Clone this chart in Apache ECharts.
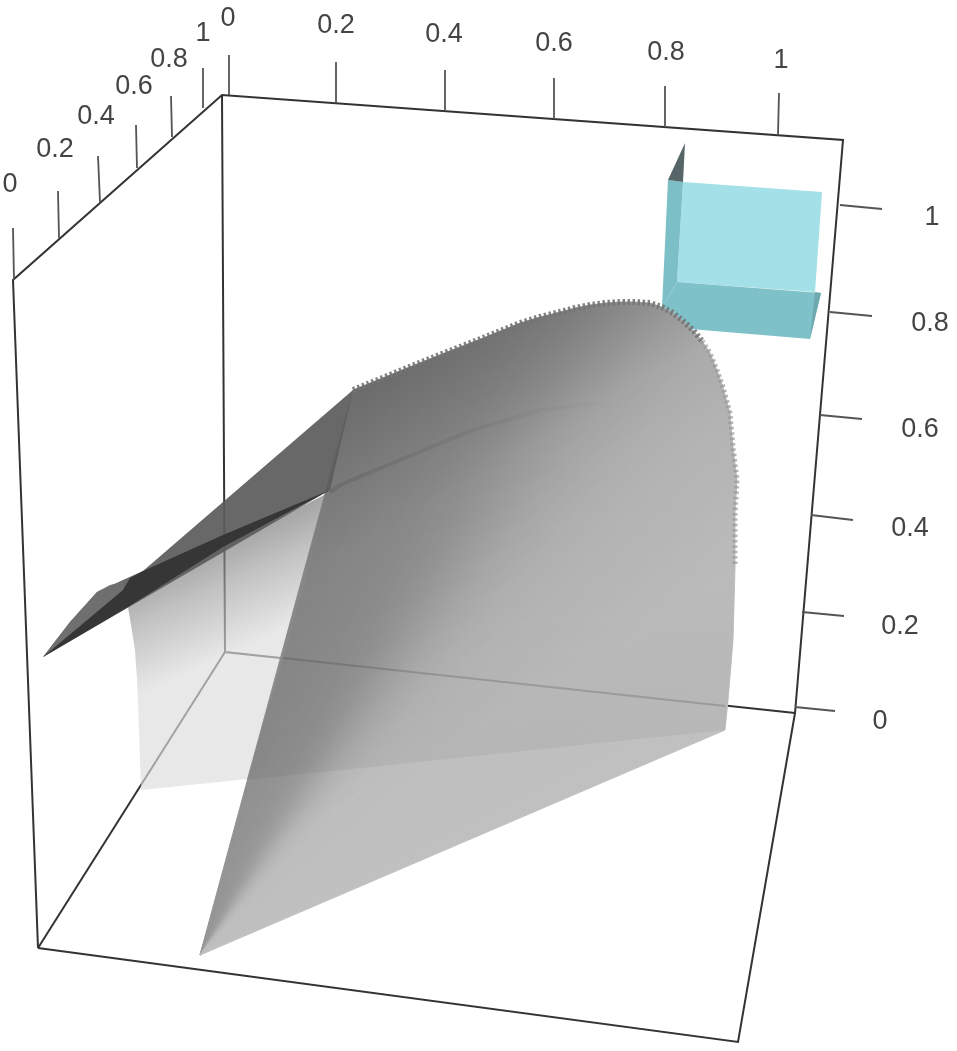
<!DOCTYPE html>
<html>
<head>
<meta charset="utf-8">
<title>3D surface</title>
<script src="https://cdn.jsdelivr.net/npm/echarts@6/dist/echarts.min.js"></script>
<style>
html,body{margin:0;padding:0;background:#fff;}
#chart{width:957px;height:1051px;filter:blur(0.6px);}
</style>
</head>
<body>
<div id="chart"></div>
<script>
var boxBack = [[222,95],[225,652],[795,713]];
var boxBackFloor = [[225,652],[38,948]];
var boxOutline = [[38,948],[13,280],[222,95],[843,140],[795,713],[738,1042],[38,948]];

var xTicks = [[[14,280],[13,228]],[[59,238],[58,191]],[[100,202],[98,156]],[[137,168],[136,125]],[[172,137],[171,96]],[[203,108],[203,68]]];
var yTicks = [[[229,95],[229,55]],[[336,103],[336,62]],[[445,111],[445,70]],[[554,119],[554,78]],[[665,127],[665,86]],[[778,135],[779,93]]];
var zTicks = [[[795,707],[835,711]],[[802,612],[844,616]],[[811,515],[853,520]],[[820,415],[862,419]],[[830,312],[872,316]],[[840,205],[882,209]]];

var tickText = ['0','0.2','0.4','0.6','0.8','1'];
var xLabelAt = [[10,185],[55,150],[96,117],[134,87],[169,60],[203,34]];
var yLabelAt = [[228,19],[336,26],[444,35],[554,44],[666,53],[781,61]];
var zLabelAt = [[880,722],[900,627],[910,529],[920,430],[930,324],[932,218]];

var apex = [200,955];
var rimPoints = [[353,390],[380,379],[407,368],[447,352],[483,338],[520,323],[540,317],[560,312],[575,308],[590,305],[605,303],[620,302],[635,302],[650,303],[662,307],[673,313],[683,321],[693,330],[702,341],[710,353],[717,370],[723,387],[730,413],[733,447],[737,480],[735,513],[735,567],[733,640],[728,700],[725,730]];
var rimGray = [148,148,149,150,151,153,155,157,159,161,164,167,170,173,176,179,181,183,185,187,188,189,190,190,190,191,191,191,192,192];
var ridgePoints = [[330,492],[340,485],[407,457],[473,430],[540,410],[590,404],[633,406],[673,417],[707,433],[733,453]];

var backLeft = [[128,607],[223,547]];
var backRight = [[735,513],[735,567],[733,640],[728,700],[725,730],[141,790],[139,730],[137,680],[135,650],[131,625]];
var overlapLeft = [[246,780],[283,660]];

var wedge = [[43,657],[70,622],[97,592],[123,580],[143,571],[353,390],[330,490]];
var wedgeTip = [[43,657],[70,622],[97,592],[110,585],[123,582],[128,607]];
var strip = [[43,657],[123,590],[130,578],[143,571],[223,535],[330,490],[223,547],[128,607]];

var cubeTop = [[685,143],[668,180],[683,182]];
var cubeBack = [[683,182],[822,192],[815,292],[677,282]];
var cubeLeft = [[668,180],[683,182],[677,282],[662,307]];
var cubeFloor = [[677,282],[821,293],[810,339],[690,329],[662,307]];
var cubeFloorEnd = [[815,292],[821,293],[810,339]];

var seenThrough = [[283,658],[725,706]];

var chart = echarts.init(document.getElementById('chart'));

function gray(v,a){
	return 'rgba('+v+','+v+','+v+','+a+')';
}

function polygonSeries(points,style){
	return {
		type:'custom',
		silent:true,
		clip:false,
		data:[0],
		renderItem:function(params,api){
			var s = typeof style === 'function' ? style(api) : style;
			return {
				type:'polygon',
				shape:{points:points.map(function(p){return api.coord(p);})},
				style:s
			};
		}
	};
}

function lineSeries(lines,style){
	return {
		type:'custom',
		silent:true,
		clip:false,
		data:lines.map(function(l,i){return i;}),
		renderItem:function(params,api){
			var s = typeof style === 'function' ? style(api) : style;
			return {
				type:'polyline',
				shape:{points:lines[params.dataIndex].map(function(p){return api.coord(p);})},
				style:Object.assign({fill:null},s)
			};
		}
	};
}

function textSeries(positions){
	return {
		type:'custom',
		silent:true,
		clip:false,
		data:positions.map(function(l,i){return i;}),
		renderItem:function(params,api){
			var c = api.coord(positions[params.dataIndex]);
			return {
				type:'text',
				style:{
					x:c[0],
					y:c[1],
					text:tickText[params.dataIndex],
					fill:'#444',
					font:'27px "Liberation Sans"',
					textAlign:'center',
					textVerticalAlign:'middle'
				}
			};
		}
	};
}

// front sheet is a fan of slices from the apex, each shaded across its width
function fanSeries(){
	return {
		type:'custom',
		silent:true,
		clip:false,
		data:rimGray.slice(1).map(function(g,i){return i;}),
		renderItem:function(params,api){
			var i = params.dataIndex;
			var a = api.coord(apex), p = api.coord(rimPoints[i]), q = api.coord(rimPoints[i+1]);
			var dx = (p[0]+q[0])/2-a[0], dy = (p[1]+q[1])/2-a[1];
			var len = Math.sqrt(dx*dx+dy*dy);
			var nx = -dy/len, ny = dx/len;
			var w = (q[0]-p[0])*nx+(q[1]-p[1])*ny;
			var fill = new echarts.graphic.LinearGradient(p[0],p[1],p[0]+nx*w,p[1]+ny*w,[
				{offset:0,color:gray(rimGray[i],1)},
				{offset:1,color:gray(rimGray[i+1],1)}
			],true);
			return {
				type:'polygon',
				shape:{points:[a,p,q]},
				style:{fill:fill,stroke:fill,lineWidth:1}
			};
		}
	};
}

var backSheet = backLeft.concat(ridgePoints,backRight);
var frontSheet = [apex].concat(rimPoints);
var overlap = overlapLeft.concat(ridgePoints,backRight.slice(0,5));

var series = [
	lineSeries([boxBack,boxBackFloor],{stroke:'#333',lineWidth:2}),
	lineSeries([boxOutline],{stroke:'#333',lineWidth:2}),
	lineSeries(xTicks,{stroke:'#555',lineWidth:1.8}),
	lineSeries(yTicks,{stroke:'#555',lineWidth:1.8}),
	lineSeries(zTicks,{stroke:'#555',lineWidth:1.8}),
	textSeries(xLabelAt),
	textSeries(yLabelAt),
	textSeries(zLabelAt),

	polygonSeries(cubeBack,{fill:'#a3e0e7'}),
	polygonSeries(cubeFloor,{fill:'#7fc1c8'}),
	polygonSeries(cubeFloorEnd,{fill:'#6fa9af'}),
	polygonSeries(cubeLeft,{fill:'#7dbfc7'}),
	polygonSeries(cubeTop,{fill:'#566668'}),

	polygonSeries(backSheet,function(api){
		var a = api.coord([205,520]), b = api.coord([260,640]);
		return {fill:new echarts.graphic.LinearGradient(a[0],a[1],b[0],b[1],[
			{offset:0,color:gray(85,0.65)},
			{offset:0.5,color:gray(160,0.65)},
			{offset:1,color:gray(220,0.65)}
		],true)};
	}),

	fanSeries(),

	// darkening towards the upper left of the front sheet
	polygonSeries(frontSheet,function(api){
		var a = api.coord([420,330]), b = api.coord([610,650]);
		return {fill:new echarts.graphic.LinearGradient(a[0],a[1],b[0],b[1],[
			{offset:0,color:'rgba(0,0,0,0.3)'},
			{offset:0.42,color:'rgba(0,0,0,0.09)'},
			{offset:1,color:'rgba(0,0,0,0)'}
		],true)};
	}),
	polygonSeries(overlap,function(api){
		var a = api.coord([0,440]), b = api.coord([0,760]);
		return {fill:new echarts.graphic.LinearGradient(a[0],a[1],b[0],b[1],[
			{offset:0,color:'rgba(0,0,0,0)'},
			{offset:1,color:'rgba(0,0,0,0.05)'}
		],true)};
	}),
	lineSeries([ridgePoints],function(api){
		var a = api.coord([330,0]), b = api.coord([640,0]);
		return {stroke:new echarts.graphic.LinearGradient(a[0],a[1],b[0],b[1],[
			{offset:0,color:'rgba(0,0,0,0.1)'},
			{offset:1,color:'rgba(0,0,0,0)'}
		],true),lineWidth:4};
	}),
	lineSeries([seenThrough],{stroke:'rgba(40,40,40,0.2)',lineWidth:1.8}),
	lineSeries([rimPoints.slice(0,19)],{stroke:'rgba(115,115,115,0.9)',lineWidth:6,lineDash:[2.4,2.6]}),
	lineSeries([rimPoints.slice(18,27)],{stroke:'rgba(150,150,150,0.7)',lineWidth:5,lineDash:[2.4,3]}),

	polygonSeries(wedge,{fill:gray(92,0.93)}),
	polygonSeries(wedgeTip,{fill:gray(112,0.95)}),
	polygonSeries(strip,{fill:'#363636'})
];

chart.setOption({
	animation:false,
	backgroundColor:'#fff',
	tooltip:{show:false},
	grid:{left:0,right:0,top:0,bottom:0},
	xAxis:{type:'value',min:0,max:957,show:false},
	yAxis:{type:'value',min:0,max:1051,inverse:true,show:false},
	series:series
});
</script>
</body>
</html>
